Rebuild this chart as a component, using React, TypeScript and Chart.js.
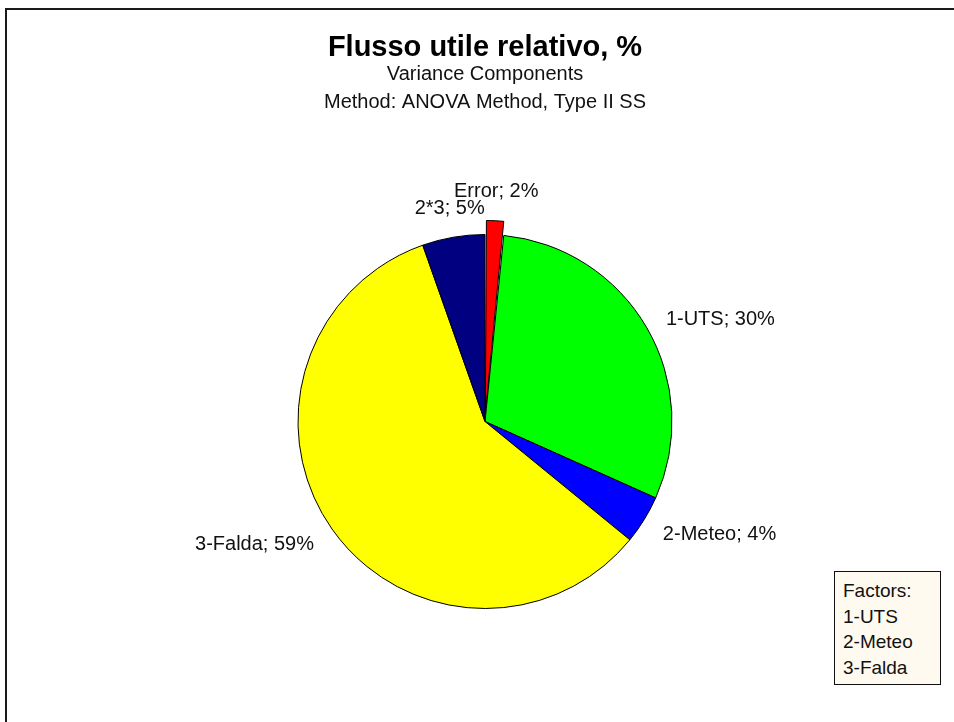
import React, { useEffect, useRef } from "react";
import { Chart, registerables } from "chart.js";

Chart.register(...registerables);

const categories = ["Error", "1-UTS", "2-Meteo", "3-Falda", "2*3"];
const values = [1.6, 30.1, 4.2, 58.7, 5.4];
const colors = ["#FF0000", "#00FF00", "#0000FF", "#FFFF00", "#000080"];
const offsets = [29.5, 0, 0, 0, 0];
const titleText = "Flusso utile relativo, %";
const subtitleLines = ["Variance Components", "Method: ANOVA Method, Type II SS"];
const legendLines = ["Factors:", "1-UTS", "2-Meteo", "3-Falda"];

const FONT = "'Liberation Sans', Arial, Helvetica, sans-serif";

const labelPlugin = {
  id: "sliceLabels",
  afterDatasetsDraw(chart: any) {
    const ctx = chart.ctx;
    const meta = chart.getDatasetMeta(0);
    const ds = chart.data.datasets[0];
    ctx.save();
    ctx.font = `20px ${FONT}`;
    ctx.fillStyle = "#111";
    meta.data.forEach((arc: any, i: number) => {
      const p = arc.getProps(["x", "y", "startAngle", "endAngle", "outerRadius", "circumference"], true);
      const mid = (p.startAngle + p.endAngle) / 2;
      const off = (ds.offset && ds.offset[i]) || 0;
      // visible outward shift of an offset arc in Chart.js (translate + radius growth)
      const fix = 1 - Math.sin(Math.min(Math.PI, p.circumference || 0));
      const shift = (off / 4) * (1 + fix);
      const r = p.outerRadius + shift + 22;
      const c = Math.cos(mid);
      const s = Math.sin(mid);
      const ax = p.x + c * r;
      const ay = p.y + s * r + 3;
      ctx.textAlign = c > 0.3 ? "left" : c < -0.3 ? "right" : "center";
      ctx.textBaseline = s < -0.8 ? "bottom" : s > 0.8 ? "top" : "middle";
      const txt = `${chart.data.labels[i]}; ${Math.round(ds.data[i])}%`;
      ctx.fillText(txt, ax, ay);
    });
    ctx.restore();
  },
};

export default function App() {
  const ref = useRef<HTMLCanvasElement | null>(null);
  useEffect(() => {
    if (!ref.current) return;
    const chart = new Chart(ref.current, {
      type: "pie",
      data: {
        labels: categories,
        datasets: [
          {
            data: values,
            backgroundColor: colors,
            borderColor: "#000",
            borderWidth: 1,
            offset: offsets,
          } as any,
        ],
      },
      options: {
        animation: false,
        responsive: false,
        radius: 187,
        layout: { padding: { left: 100, right: 84, top: 0, bottom: 10 } },
        plugins: {
          legend: { display: false },
          tooltip: { enabled: false },
          title: {
            display: true,
            text: titleText,
            color: "#000",
            font: { family: FONT, size: 29, weight: "bold", lineHeight: 1 },
            padding: { top: 33, bottom: -2 },
          },
          subtitle: {
            display: true,
            text: subtitleLines,
            color: "#111",
            font: { family: FONT, size: 20, lineHeight: 1.4 },
            padding: { top: 0, bottom: 15 },
          },
        },
      } as any,
      plugins: [labelPlugin],
    });
    return () => chart.destroy();
  }, []);

  return (
    <div style={{ position: "absolute", left: 0, top: 0, width: 954, height: 722, overflow: "hidden", background: "#fff" }}>
      <div
        style={{
          position: "absolute",
          left: 5,
          top: 8,
          width: 1000,
          height: 1000,
          borderTop: "2px solid #1a1a1a",
          borderLeft: "2px solid #1a1a1a",
        }}
      />
      <canvas ref={ref} width={954} height={722} style={{ position: "absolute", left: 0, top: 0 }} />
      <div
        style={{
          position: "absolute",
          left: 834,
          top: 571,
          width: 107,
          height: 114,
          border: "1px solid #111",
          background: "#FFFAEF",
          fontFamily: FONT,
          fontSize: 19,
          lineHeight: "25.5px",
          color: "#111",
          paddingLeft: 8,
          paddingTop: 6,
          boxSizing: "border-box",
        }}
      >
        {legendLines.map((l) => (
          <div key={l}>{l}</div>
        ))}
      </div>
    </div>
  );
}
